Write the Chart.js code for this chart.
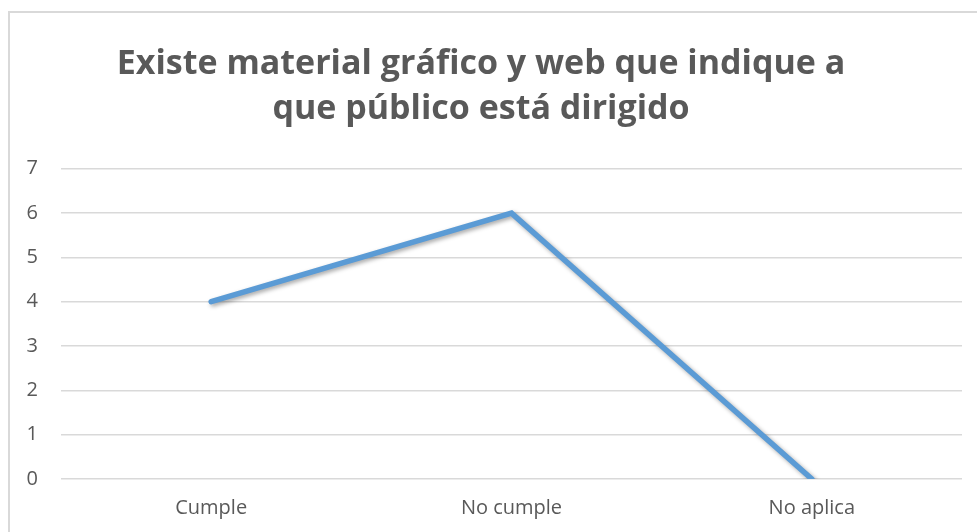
<!DOCTYPE html>
<html>
<head>
<meta charset="utf-8">
<script src="https://cdn.jsdelivr.net/npm/chart.js@4/dist/chart.umd.min.js"></script>
<style>
  html, body { margin: 0; padding: 0; background: #ffffff; overflow: hidden; }
  #wrap { position: relative; width: 977px; height: 532px; }
  #frame { position: absolute; left: 8px; top: 11px; width: 1000px; height: 600px; border: 2px solid #d9d9d9; box-sizing: border-box; }
  #c { position: absolute; left: 0; top: 0; }
</style>
</head>
<body>
<div id="wrap">
  <div id="frame"></div>
  <canvas id="c" width="977" height="532"></canvas>
</div>
<script>
const titleLines = ["Existe material gráfico y web que indique a", "que público está dirigido"];
const categories = ["Cumple", "No cumple", "No aplica"];
const values = [4, 6, 0];
const yMin = 0;
const yMax = 7;
const yStep = 1;

const shadowPlugin = {
  id: 'lineShadow',
  beforeDatasetDraw(chart) {
    const ctx = chart.ctx;
    ctx.save();
    ctx.shadowColor = 'rgba(0,0,0,0.35)';
    ctx.shadowBlur = 4;
    ctx.shadowOffsetX = 2;
    ctx.shadowOffsetY = 2;
  },
  afterDatasetDraw(chart) {
    chart.ctx.restore();
  }
};

new Chart(document.getElementById('c'), {
  type: 'line',
  data: {
    labels: categories,
    datasets: [{
      data: values,
      borderColor: '#5b9bd5',
      borderWidth: 5.5,
      borderCapStyle: 'round',
      borderJoinStyle: 'miter',
      pointRadius: 0,
      pointHoverRadius: 0,
      tension: 0,
      fill: false
    }]
  },
  plugins: [shadowPlugin],
  options: {
    responsive: false,
    devicePixelRatio: 1,
    animation: false,
    layout: { padding: { left: 0, right: 15, top: 0, bottom: 0 } },
    plugins: {
      legend: { display: false },
      tooltip: { enabled: false },
      title: {
        display: true,
        text: titleLines,
        color: '#595959',
        font: { family: "'Open Sans'", size: 34, weight: 'bold', lineHeight: 1.32 },
        padding: { top: 42, bottom: 37 }
      }
    },
    scales: {
      x: {
        offset: true,
        grid: { display: false, drawTicks: false },
        border: { display: false },
        ticks: { color: '#595959', font: { family: "'Open Sans'", size: 20 }, padding: 17 },
        afterFit(s) { s.height = 53; }
      },
      y: {
        min: yMin,
        max: yMax,
        ticks: { stepSize: yStep, color: '#595959', font: { family: "'Open Sans'", size: 20 }, padding: 23 },
        grid: { color: '#d9d9d9', lineWidth: 1.5, drawTicks: false },
        border: { display: false },
        afterFit(s) { s.width = 61; }
      }
    }
  }
});
</script>
</body>
</html>
